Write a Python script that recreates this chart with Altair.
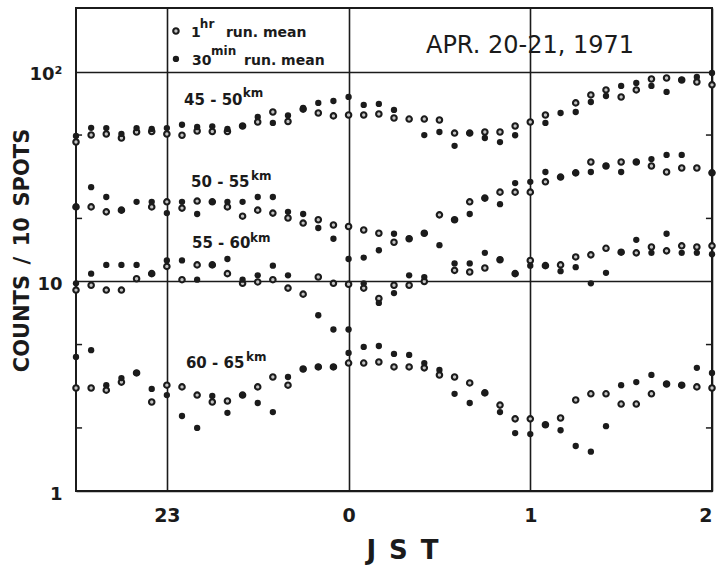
import altair as alt
import pandas as pd

# time axis: minutes after 22:30 JST (5-minute steps)
minutes = [0, 5, 10, 15, 20, 25, 30, 35, 40, 45,
           50, 55, 60, 65, 70, 75, 80, 85, 90, 95,
           100, 105, 110, 115, 120, 125, 130, 135, 140, 145,
           150, 155, 160, 165, 170, 175, 180, 185, 190, 195,
           200, 205, 210]
tick_values = [30, 90, 150, 210]
tick_labels = ["23", "0", "1", "2"]

# 45-50 km
h45_1hr = [46.3, 50.0, 50.6, 48.4, 51.7, 52.0, 50.6, 49.9, 52.3, 52.0,
           52.0, 55.2, 57.7, 64.4, 58.0, 66.5, 63.7, 61.7, 62.3, 62.3,
           63.0, 60.3, 59.6, 59.6, 59.0, 51.1, 51.1, 51.7, 51.7, 55.2,
           57.7, 62.3, None, 71.2, 77.7, 82.1, 76.0, 82.1, 92.6, 93.6,
           91.6, 89.6, 86.8]
h45_30m = [49.5, 54.1, 54.0, 50.6, 54.0, 53.5, 54.0, 56.0, 54.6, 55.0,
           53.5, 55.2, 61.0, 57.1, 62.0, 67.3, 71.2, 72.7, 76.0, 69.6,
           70.4, 65.9, None, 50.0, 51.7, 44.4, 51.1, 48.4, 46.3, 49.9,
           None, 57.1, 63.7, 64.4, 71.9, 76.8, 85.8, 88.6, 85.8, 80.3,
           91.6, 94.6, 98.9]
# 50-55 km
h50_1hr = [22.7, 22.7, 21.5, 21.9, None, 22.7, 24.0, 22.4, 24.2, 24.0,
           22.7, 20.5, 21.9, 21.2, 20.1, 19.0, 19.7, 18.6, 18.3, 17.6,
           17.0, 15.4, 16.0, 17.0, 20.8, 19.7, 24.0, 25.0, 26.7, 26.7,
           26.7, 29.9, 31.5, 33.0, 37.2, 35.6, 37.2, 37.2, 35.6, 33.3,
           34.8, 34.8, 33.0]
h50_30m = [22.7, 28.2, 25.3, 21.9, 24.0, 24.0, 21.2, 24.0, 21.0, 24.0,
           24.0, 24.0, 25.3, 25.3, 21.5, 21.0, 18.0, 16.0, 12.8, 13.0,
           14.1, 16.9, 16.0, 17.0, 14.9, 19.7, 21.0, 25.0, 23.4, 29.5,
           29.9, 33.3, 31.5, 33.0, 33.3, 35.6, 33.3, 37.2, 38.4, 40.2,
           40.2, None, 33.0]
# 55-60 km
h55_1hr = [9.1, 9.6, 9.1, 9.1, 10.3, 10.9, 11.8, 10.2, 12.0, 12.0,
           10.9, 9.8, 9.95, 10.2, 9.3, 8.7, 10.5, 9.8, 9.7, 9.3,
           8.3, 9.6, 9.6, 10.0, None, 11.3, 11.1, 11.6, 12.7, 10.9,
           12.6, 11.9, 12.0, 13.1, 13.4, 14.4, 13.8, 13.7, 14.6, 14.0,
           14.8, 14.6, 14.8]
h55_30m = [9.8, 10.9, 12.0, 12.0, 12.0, 10.9, 12.6, 12.6, 10.2, 12.0,
           12.8, 10.2, 10.7, 11.9, 10.7, None, 6.9, 5.9, 5.9, 9.8,
           7.9, 8.8, 10.7, 10.5, None, 12.2, 12.2, 13.7, 12.7, 10.9,
           11.9, 11.9, 11.2, 11.7, 9.8, 11.0, 13.8, 15.8, 13.7, 16.9,
           13.7, 13.7, 13.5]
# 60-65 km
h60_1hr = [3.1, 3.1, 3.03, 3.31, 3.66, 2.66, 3.2, 3.14, 2.87, 2.66,
           2.69, 2.87, 3.14, 3.5, 3.2, 3.82, 3.91, 3.91, 4.08, 4.08,
           4.13, 3.91, 3.91, 3.87, 3.58, 3.5, 3.28, 2.94, 2.57, 2.21,
           2.21, 2.07, 2.23, 2.72, 2.91, 2.91, 2.6, 2.6, 2.91, 3.24,
           3.2, 3.14, 3.1]
h60_30m = [4.36, 4.7, 3.2, 3.46, 3.66, 3.07, 2.87, 2.28, 2.0, 2.84,
           2.36, 2.87, 2.63, 2.38, 3.5, 3.82, 3.91, 3.91, 4.56, 4.87,
           4.92, 4.51, 4.46, 4.08, 3.78, 2.91, 2.63, 2.94, 2.38, 1.89,
           1.87, 2.07, 1.95, 1.64, 1.54, 2.04, 3.2, 3.31, 3.58, 3.24,
           3.2, 3.87, 3.66]

groups = ["45-50", "50-55", "55-60", "60-65"]
series_1hr = [h45_1hr, h50_1hr, h55_1hr, h60_1hr]
series_30m = [h45_30m, h50_30m, h55_30m, h60_30m]

# annotation text (positions in data units)
group_text = ["45 - 50", "50 - 55", "55 - 60", "60 - 65"]
group_text_min = [35.7, 38.0, 38.3, 36.3]
group_text_val = [69.6, 28.3, 14.45, 3.87]
km_min = [55.1, 57.8, 57.45, 56.1]
km_val = [76.0, 30.5, 15.4, 4.17]

rows = []
for g, s1, s30 in zip(groups, series_1hr, series_30m):
    for m, v in zip(minutes, s1):
        if v is not None:
            rows.append({"minute": m, "value": v, "group": g, "series": "1hr"})
    for m, v in zip(minutes, s30):
        if v is not None:
            rows.append({"minute": m, "value": v, "group": g, "series": "30min"})
df = pd.DataFrame(rows)
df_1hr = df[df.series == "1hr"]
df_30m = df[df.series == "30min"]

INK = "#1b1b1b"
RING_FILL = "#c4c4c4"
FONT = "DejaVu Sans"

label_expr = " : ".join(
    f"datum.value == {v} ? '{t}'" for v, t in zip(tick_values[:-1], tick_labels[:-1])
) + f" : '{tick_labels[-1]}'"

X = alt.X(
    "minute:Q",
    scale=alt.Scale(domain=[0, 210], nice=False, zero=False),
    axis=alt.Axis(
        values=tick_values, labelExpr=label_expr, grid=True, gridColor=INK,
        gridWidth=1.6, gridOpacity=1, ticks=False, tickSize=0, domain=False,
        labelFont=FONT, labelFontSize=19, labelFontWeight="bold", labelColor=INK,
        labelPadding=15, labelFlush=False, labelOverlap=False,
        labelAlign={"expr": "datum.value == 210 ? 'right' : 'center'"},
        title="J\u2002S\u2002T", titleFont=FONT, titleFontSize=26,
        titleFontWeight="bold", titleColor=INK, titleX=326, titleY=67,
        titleBaseline="alphabetic", titleAlign="center",
    ),
)
Y = alt.Y(
    "value:Q",
    scale=alt.Scale(type="log", domain=[1, 202], nice=False),
    axis=alt.Axis(
        values=[1, 10, 100],
        labelExpr="datum.value == 100 ? '10²' : datum.value == 10 ? '10' : '1'",
        grid=True, gridColor=INK, gridWidth=1.6, gridOpacity=1, ticks=False,
        tickSize=0, domain=False, labelFont=FONT, labelFontSize=18,
        labelFontWeight="bold", labelColor=INK, labelPadding=14,
        labelFlush=False, labelOffset=3,
        title="COUNTS\u2002/\u200210\u2002SPOTS", titleFont=FONT, titleFontSize=21,
        titleFontWeight="bold", titleColor=INK, titleX=-48, titleY=242,
        titleAngle=-90, titleBaseline="alphabetic", titleAlign="center",
    ),
)

open_pts = alt.Chart(df_1hr).mark_point(
    shape="circle", filled=True, fill=RING_FILL, stroke=INK, strokeWidth=2.1,
    size=30, opacity=1,
).encode(x=X, y=Y)

dots = alt.Chart(df_30m).mark_circle(size=40, color=INK, opacity=1).encode(x=X, y=Y)

# inner minor ticks at 2, 5, 20, 50 on both frame sides
tick_df = pd.DataFrame({
    "value": [2, 5, 20, 50, 2, 5, 20, 50],
    "minute": [0, 0, 0, 0, 208, 208, 208, 208],
    "minute2": [2, 2, 2, 2, 210, 210, 210, 210],
})
minor = alt.Chart(tick_df).mark_rule(color=INK, strokeWidth=1.5).encode(
    x=X, x2="minute2:Q", y=Y)

lab_df = pd.DataFrame({"minute": group_text_min, "value": group_text_val, "label": group_text})
km_df = pd.DataFrame({"minute": km_min, "value": km_val, "label": ["km"] * 4})
group_labels = alt.Chart(lab_df).mark_text(
    align="left", baseline="alphabetic", font=FONT, fontSize=15, fontWeight="bold", color=INK
).encode(x=X, y=Y, text="label:N")
km_labels = alt.Chart(km_df).mark_text(
    align="left", baseline="alphabetic", font=FONT, fontSize=12, fontWeight="bold", color=INK
).encode(x=X, y=Y, text="label:N")

# legend
leg_sym_1 = pd.DataFrame({"minute": [33.0], "value": [156.9]})
leg_sym_2 = pd.DataFrame({"minute": [33.0], "value": [115.4]})
leg_open = alt.Chart(leg_sym_1).mark_point(
    shape="circle", filled=True, fill=RING_FILL, stroke=INK, strokeWidth=2.1, size=30, opacity=1
).encode(x=X, y=Y)
leg_dot = alt.Chart(leg_sym_2).mark_circle(size=40, color=INK, opacity=1).encode(x=X, y=Y)
leg_main = pd.DataFrame({
    "minute": [38.0, 49.5, 38.3, 55.5],
    "value": [146.9, 146.9, 108.0, 108.0],
    "label": ["1", "run. mean", "30", "run. mean"],
})
leg_sup = pd.DataFrame({
    "minute": [40.9, 44.6],
    "value": [162.2, 120.5],
    "label": ["hr", "min"],
})
leg_text = alt.Chart(leg_main).mark_text(
    align="left", baseline="alphabetic", font=FONT, fontSize=14, fontWeight="bold", color=INK
).encode(x=X, y=Y, text="label:N")
leg_sup_text = alt.Chart(leg_sup).mark_text(
    align="left", baseline="alphabetic", font=FONT, fontSize=12, fontWeight="bold", color=INK
).encode(x=X, y=Y, text="label:N")

date_df = pd.DataFrame({"minute": [149.9], "value": [123.2], "label": ["APR. 20-21, 1971"]})
date_text = alt.Chart(date_df).mark_text(
    align="center", baseline="alphabetic", font=FONT, fontSize=24, color=INK
).encode(x=X, y=Y, text="label:N")

chart = alt.layer(
    minor, open_pts, dots, group_labels, km_labels,
    leg_open, leg_dot, leg_text, leg_sup_text, date_text,
).properties(
    width=636, height=483,
    autosize=alt.AutoSizeParams(type="none"),
    padding={"left": 76, "top": 8, "right": 5, "bottom": 74},
    background="white",
).configure_view(stroke=INK, strokeWidth=2)

chart.save("out.html", embed_options={"renderer": "svg", "actions": False})
